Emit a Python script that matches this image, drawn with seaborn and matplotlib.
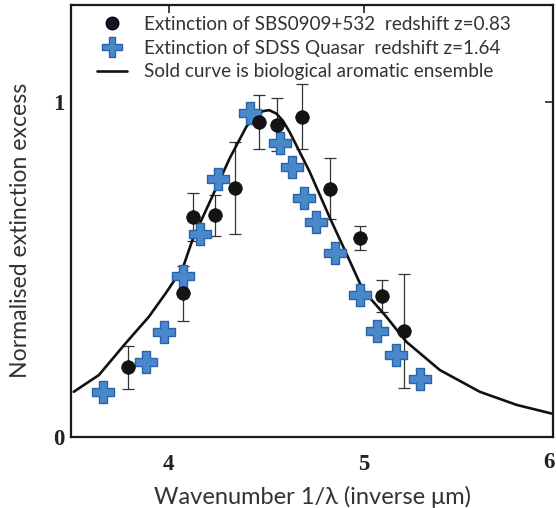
import numpy as np
import pandas as pd
import seaborn as sns
import matplotlib
matplotlib.use("Agg")
import matplotlib.pyplot as plt
from matplotlib.lines import Line2D

# ---- data ----
sbs_x = [3.79, 4.073, 4.125, 4.236, 4.342, 4.463, 4.555, 4.686, 4.826, 4.979, 5.094, 5.205]
sbs_y = [0.208, 0.429, 0.658, 0.662, 0.744, 0.941, 0.933, 0.956, 0.742, 0.595, 0.421, 0.317]
sbs_err = [0.065, 0.083, 0.072, 0.062, 0.138, 0.08, 0.08, 0.097, 0.09, 0.036, 0.048, 0.17]

sdss_x = [3.663, 3.882, 3.976, 4.073, 4.159, 4.253, 4.415, 4.569, 4.634, 4.694, 4.757, 4.851, 4.979, 5.068, 5.164, 5.29]
sdss_y = [0.135, 0.225, 0.314, 0.481, 0.606, 0.769, 0.968, 0.879, 0.805, 0.714, 0.643, 0.55, 0.424, 0.316, 0.245, 0.172]

curve_x = [3.514, 3.643, 3.78, 3.899, 3.985, 4.073, 4.125, 4.227, 4.313, 4.398, 4.44, 4.484, 4.515,
           4.552, 4.585, 4.62, 4.723, 4.826, 4.911, 4.996, 5.116, 5.219, 5.39, 5.595, 5.783, 5.963]
curve_y = [0.135, 0.185, 0.28, 0.359, 0.429, 0.505, 0.593, 0.722, 0.832, 0.926, 0.958, 0.973, 0.976,
           0.966, 0.945, 0.911, 0.792, 0.655, 0.548, 0.439, 0.359, 0.284, 0.2, 0.135, 0.096, 0.07]

x_ticks = [4, 5]
x_edge_tick = "6"
y_ticks = [0, 1]

labels = ["Extinction of SBS0909+532  redshift z=0.83",
          "Extinction of SDSS Quasar  redshift z=1.64",
          "Sold curve is biological aromatic ensemble"]
xlabel = "Wavenumber 1/\u03bb (inverse \u03bcm)"
ylabel = "Normalised extinction excess"

sns.set_theme(style="white")
plt.rcParams['font.family'] = ['Lato', 'DejaVu Sans']

fig = plt.figure(figsize=(5.56, 5.08), dpi=100)
ax = fig.add_axes([71/556, 1-437/508, (553-71)/556, (437-5)/508])

sbs = pd.DataFrame({"x": sbs_x, "y": sbs_y, "err": sbs_err})
sdss = pd.DataFrame({"x": sdss_x, "y": sdss_y})
curve = pd.DataFrame({"x": curve_x, "y": curve_y})

sns.lineplot(data=curve, x="x", y="y", sort=False, estimator=None, color="#111111",
             linewidth=1.9, ax=ax, zorder=2)
ax.errorbar(sbs["x"], sbs["y"], yerr=sbs["err"], fmt="none", ecolor="#333333",
            elinewidth=0.9, capsize=4, capthick=0.9, zorder=1)
sns.scatterplot(data=sdss, x="x", y="y", marker="P", s=230, color="#4a88cc",
                edgecolor="#2b63a8", linewidth=1.0, ax=ax, zorder=3)
sns.scatterplot(data=sbs, x="x", y="y", marker="o", s=95, color="#141414",
                edgecolor="#000000", linewidth=0.5, ax=ax, zorder=4)

ax.set_xlim(3.5, 5.97)
ax.set_ylim(0, 1.29)
ax.set_xticks(x_ticks)
ax.set_yticks(y_ticks)
ax.set_xticklabels([str(t) for t in x_ticks])
ax.set_yticklabels([str(t) for t in y_ticks])
for lab in ax.get_xticklabels() + ax.get_yticklabels():
    lab.set_fontfamily("Liberation Serif")
    lab.set_fontweight("bold")
    lab.set_fontsize(16.5)
# the "6" label sits at the right edge of the picture
fig.text(555/556, 1-463/508, x_edge_tick, ha="right", va="center",
         fontfamily="Liberation Serif", fontweight="bold", fontsize=16.5,
         color="#222222")

ax.tick_params(axis="x", direction="in", length=6, width=1.2, pad=12, colors="#222222",
               top=True)
ax.tick_params(axis="y", direction="in", length=6, width=1.2, pad=5, colors="#222222",
               right=True)
for sp in ax.spines.values():
    sp.set_visible(True)
    sp.set_color("#1a1a1a")
    sp.set_linewidth(1.6)

ax.set_xlabel(xlabel, fontsize=17, color="#333333", labelpad=8)
ax.set_ylabel(ylabel, fontsize=16.6, color="#333333")
ax.yaxis.set_label_coords(-0.083, 0.478)

handles = [
    Line2D([], [], marker="o", linestyle="none", markersize=9, markerfacecolor="#141428",
           markeredgecolor="#000000"),
    Line2D([], [], marker="P", linestyle="none", markersize=14, markerfacecolor="#4a88cc",
           markeredgecolor="#2b63a8"),
    Line2D([], [], color="#111111", linewidth=1.9),
]
leg = ax.legend(handles, labels, loc="upper left", bbox_to_anchor=(0.054, 0.975),
                frameon=False, fontsize=13.6, handlelength=1.6, handletextpad=0.9,
                borderpad=0, borderaxespad=0, labelspacing=0.36)
for t in leg.get_texts():
    t.set_color("#333333")

fig.savefig("out.png", dpi=100)
